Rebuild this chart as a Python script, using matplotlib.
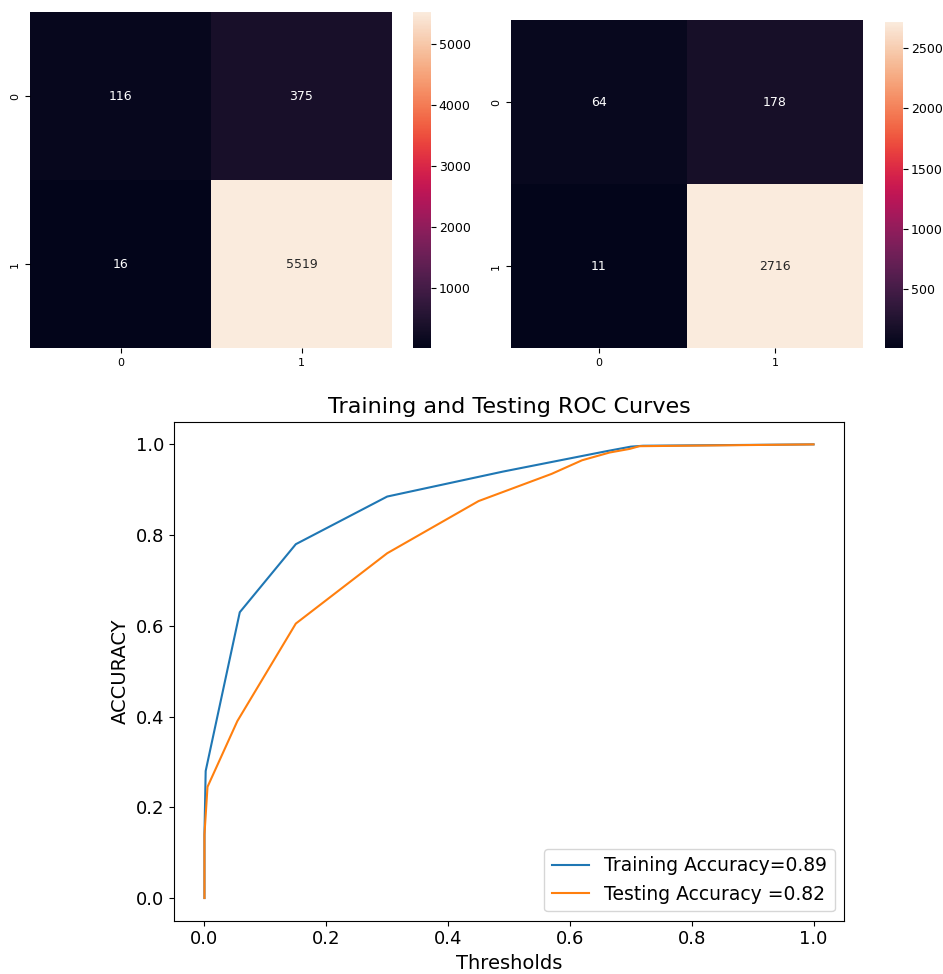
import matplotlib
matplotlib.use('Agg')
import matplotlib.pyplot as plt
import numpy as np
import seaborn as sns

# confusion matrices (train / test)
cm_train = [[116, 375], [16, 5519]]
cm_test = [[64, 178], [11, 2716]]

# ROC curve points
fpr_train = [0.0, 0.0, 0.002, 0.058, 0.15, 0.30, 0.49, 0.66, 0.70, 0.72, 1.0]
tpr_train = [0.0, 0.14, 0.28, 0.63, 0.78, 0.885, 0.94, 0.985, 0.995, 0.997, 1.0]
fpr_test = [0.0, 0.0, 0.005, 0.054, 0.15, 0.30, 0.45, 0.57, 0.62, 0.665, 0.698, 0.714, 1.0]
tpr_test = [0.0, 0.14, 0.245, 0.39, 0.605, 0.76, 0.875, 0.935, 0.965, 0.982, 0.99, 0.996, 1.0]
train_acc = 0.89
test_acc = 0.82

W, H = 943, 974
fig = plt.figure(figsize=(W / 100, H / 100), dpi=100)

def box(x0, y0, x1, y1):
    return [x0 / W, 1 - y1 / H, (x1 - x0) / W, (y1 - y0) / H]

ax1 = fig.add_axes(box(30, 12, 392, 348))
cax1 = fig.add_axes(box(413, 12, 431, 348))
sns.heatmap(np.array(cm_train), annot=True, fmt='d', ax=ax1, cbar_ax=cax1,
            annot_kws={'size': 9})

ax2 = fig.add_axes(box(511, 20, 863, 348))
cax2 = fig.add_axes(box(885, 22, 903, 348))
sns.heatmap(np.array(cm_test), annot=True, fmt='d', ax=ax2, cbar_ax=cax2,
            annot_kws={'size': 9})

for a in (ax1, ax2):
    a.tick_params(labelsize=8)
for c in (cax1, cax2):
    c.tick_params(labelsize=9, pad=2)

ax3 = fig.add_axes(box(174, 421.7, 844, 920.7))
ax3.plot(fpr_train, tpr_train, label='Training Accuracy=%.2f' % train_acc)
ax3.plot(fpr_test, tpr_test, label='Testing Accuracy =%.2f' % test_acc)
ax3.set_title('Training and Testing ROC Curves', fontsize=16)
ax3.set_xlabel('Thresholds', fontsize=14)
ax3.set_ylabel('ACCURACY', fontsize=14)
ax3.tick_params(labelsize=13)
ax3.legend(loc='lower right', fontsize=13.5)

fig.savefig('out.png', dpi=100)
